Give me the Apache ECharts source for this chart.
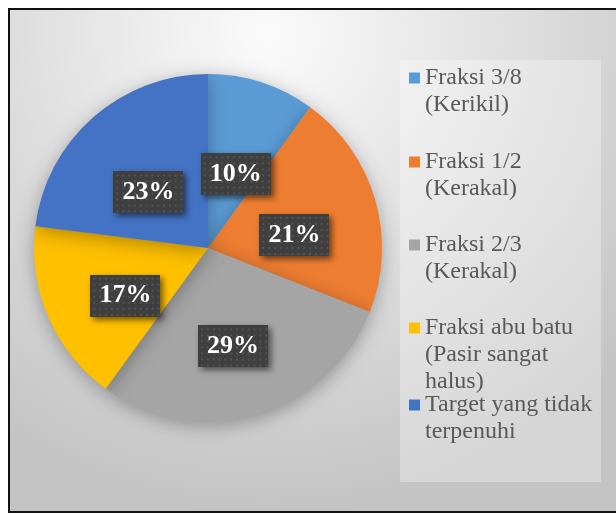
<!DOCTYPE html>
<html>
<head>
<meta charset="utf-8">
<script src="https://cdn.jsdelivr.net/npm/echarts@6/dist/echarts.min.js"></script>
<style>
  html, body { margin: 0; padding: 0; background: #fff; }
  #main { width: 616px; height: 515px; }
</style>
</head>
<body>
<div id="main"></div>
<script>
// data
var categories = [
  'Fraksi 3/8\n(Kerikil)',
  'Fraksi 1/2\n(Kerakal)',
  'Fraksi 2/3\n(Kerakal)',
  'Fraksi abu batu\n(Pasir sangat\nhalus)',
  'Target yang tidak\nterpenuhi'
];
var values = [10, 21, 29, 17, 23];
var colors = ['#5B9BD5', '#ED7D31', '#A5A5A5', '#FFC000', '#4472C4'];

// dotted dark texture behind the data labels
function dotTexture(w, h) {
  var c = document.createElement('canvas');
  c.width = w; c.height = h;
  var ctx = c.getContext('2d');
  ctx.fillStyle = '#3f3f3f';
  ctx.fillRect(0, 0, w, h);
  ctx.fillStyle = '#545454';
  for (var y = 3; y < h; y += 6) {
    for (var x = 3; x < w; x += 6) {
      ctx.fillRect(x, y, 2, 2);
    }
  }
  return c;
}

var L = 27; // legend line height
var firstLineY = [78, 162, 245, 328, 405];
var legends = categories.map(function (name, i) {
  var n = name.split('\n').length;
  // blank lines in front keep the first line level with the icon
  var pre = new Array(n).join('\n');
  return {
    orient: 'vertical',
    left: 409,
    top: firstLineY[i] - (2 * n - 1) * L / 2,
    padding: 0,
    itemWidth: 11,
    itemHeight: 11,
    itemGap: 4,
    icon: 'rect',
    selectedMode: false,
    data: [name],
    formatter: function (s) { return pre + s; },
    textStyle: {
      fontFamily: 'Liberation Serif',
      fontSize: 24,
      color: '#595959',
      lineHeight: L
    }
  };
});

var myChart = echarts.init(document.getElementById('main'));
var option = {
  backgroundColor: '#ffffff',
  animation: false,
  color: colors,
  graphic: [
    {
      type: 'rect',
      z: -10,
      shape: { x: 9, y: 9, width: 620, height: 503 },
      style: {
        fill: {
          type: 'radial', x: 0.42, y: 0.05, r: 0.95,
          colorStops: [
            { offset: 0, color: '#fbfbfb' },
            { offset: 1, color: '#c4c4c4' }
          ]
        },
        stroke: '#111',
        lineWidth: 2
      }
    },
    {
      type: 'rect',
      z: -9,
      shape: { x: 400, y: 60, width: 201, height: 422 },
      style: { fill: 'rgba(255,255,255,0.3)' }
    }
  ],
  legend: legends,
  series: [
    {
      name: 'Fraksi',
      type: 'pie',
      center: [208, 248],
      radius: 174,
      startAngle: 90,
      data: categories.map(function (c, i) { return { name: c, value: values[i] }; }),
      itemStyle: {
        shadowBlur: 18,
        shadowColor: 'rgba(0,0,0,0.3)',
        shadowOffsetY: 4
      },
      emphasis: { disabled: true },
      label: {
        show: true,
        position: 'inside',
        formatter: '{d}%',
        fontFamily: 'Liberation Serif',
        fontWeight: 'bold',
        fontSize: 26,
        color: '#ffffff',
        padding: [9, 9, 7, 9],
        backgroundColor: { image: dotTexture(72, 42) },
        shadowColor: 'rgba(0,0,0,0.55)',
        shadowBlur: 6,
        shadowOffsetX: 3,
        shadowOffsetY: 3
      },
      labelLayout: { dy: 12 },
      labelLine: { show: false }
    }
  ]
};
myChart.setOption(option);
</script>
</body>
</html>
